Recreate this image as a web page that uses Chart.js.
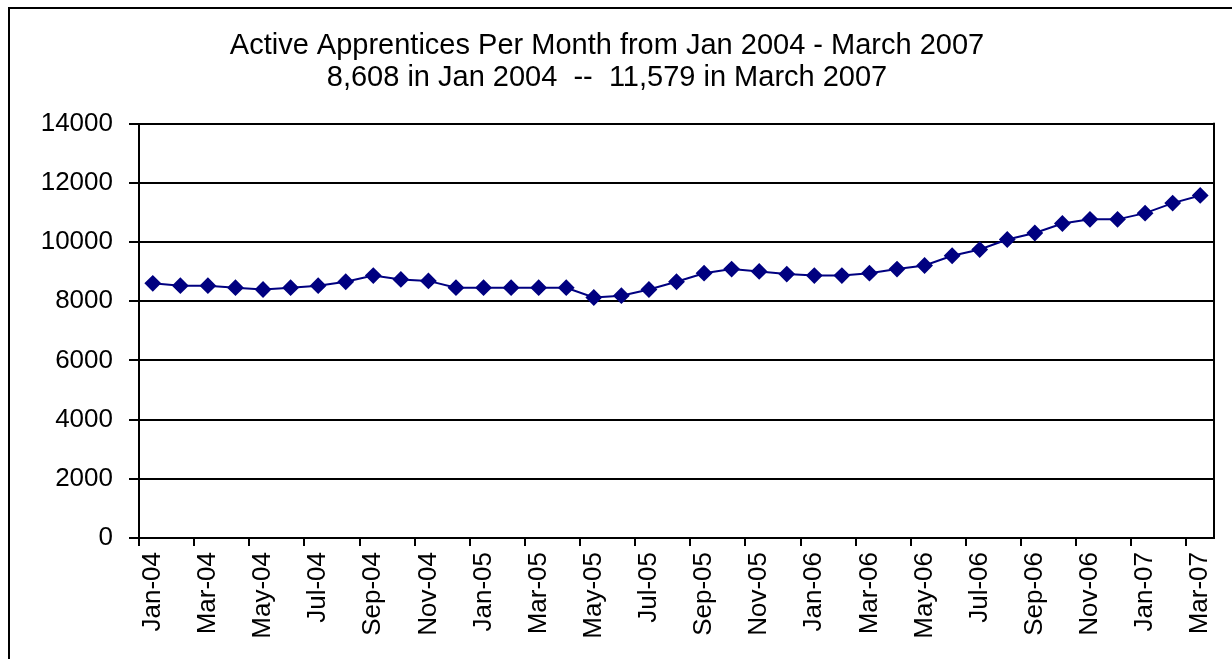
<!DOCTYPE html>
<html>
<head>
<meta charset="utf-8">
<script src="https://cdn.jsdelivr.net/npm/chart.js@4"></script>
<style>
  html, body { margin: 0; padding: 0; background: #fff; overflow: hidden; }
  #wrap { position: relative; width: 1232px; height: 659px; }
  #frame { position: absolute; left: 8px; top: 7px; width: 1400px; height: 800px; border: 2px solid #000; }
  #chart { position: absolute; left: 0; top: 0; }
</style>
</head>
<body>
<div id="wrap">
  <div id="frame"></div>
  <canvas id="chart" width="1232" height="659"></canvas>
</div>
<script>
const months = [
  "Jan-04", "Feb-04", "Mar-04", "Apr-04", "May-04", "Jun-04", "Jul-04", "Aug-04", "Sep-04", "Oct-04", "Nov-04", "Dec-04",
  "Jan-05", "Feb-05", "Mar-05", "Apr-05", "May-05", "Jun-05", "Jul-05", "Aug-05", "Sep-05", "Oct-05", "Nov-05", "Dec-05",
  "Jan-06", "Feb-06", "Mar-06", "Apr-06", "May-06", "Jun-06", "Jul-06", "Aug-06", "Sep-06", "Oct-06", "Nov-06", "Dec-06",
  "Jan-07", "Feb-07", "Mar-07"
];
const apprentices = [
  8608, 8530, 8530, 8460, 8400, 8460, 8530, 8660, 8870, 8740, 8690, 8460,
  8460, 8460, 8460, 8460, 8130, 8190, 8400, 8660, 8950, 9090, 9010, 8920,
  8870, 8870, 8950, 9090, 9210, 9540, 9750, 10090, 10310, 10630, 10770, 10770,
  10980, 11320, 11579
];
const yTicks = [0, 2000, 4000, 6000, 8000, 10000, 12000, 14000];
const titleLines = [
  "Active Apprentices Per Month from Jan 2004 - March 2007",
  "8,608 in Jan 2004  --  11,579 in March 2007"
];

const FONT = "'Liberation Sans', Arial, sans-serif";

// right edge of the plot area is framed in the original
const plotFrame = {
  id: 'plotFrame',
  afterDraw(chart) {
    const a = chart.chartArea;
    const c = chart.ctx;
    c.save();
    c.strokeStyle = '#000';
    c.lineWidth = 2;
    c.beginPath();
    c.moveTo(a.right, a.top - 1);
    c.lineTo(a.right, a.bottom + 1);
    c.stroke();
    c.restore();
  }
};

const ctx = document.getElementById('chart').getContext('2d');
const chart = new Chart(ctx, {
  type: 'line',
  data: {
    labels: months,
    datasets: [{
      label: 'Active Apprentices',
      data: apprentices,
      borderColor: '#000080',
      backgroundColor: '#000080',
      borderWidth: 2,
      pointStyle: 'rectRot',
      pointRadius: 7,
      pointHoverRadius: 7,
      tension: 0,
      fill: false
    }]
  },
  options: {
    responsive: false,
    animation: false,
    events: [],
    layout: { padding: { left: 0, right: 18, top: 0, bottom: 0 } },
    plugins: {
      legend: { display: false },
      tooltip: { enabled: false },
      title: {
        display: true,
        text: titleLines,
        color: '#000',
        font: { family: FONT, size: 29, weight: 'normal', lineHeight: 1.1 },
        padding: { top: 30, bottom: 30 }
      }
    },
    scales: {
      x: {
        type: 'category',
        offset: true,
        afterFit(scale) {
          scale.height = 121;
          scale.paddingLeft = 0;
          scale.paddingRight = 0;
        },
        grid: {
          offset: true,
          drawOnChartArea: false,
          drawTicks: true,
          tickLength: 8,
          lineWidth: 2,
          color: (c) => (c.index % 2 === 0 ? '#000' : 'rgba(0,0,0,0)')
        },
        border: { display: true, color: '#000', width: 2 },
        ticks: {
          autoSkip: false,
          maxRotation: 90,
          minRotation: 90,
          padding: 6,
          color: '#000',
          font: { family: FONT, size: 26 },
          callback: (v, i) => (i % 2 === 0 ? months[i] : '')
        }
      },
      y: {
        min: 0,
        max: 14000,
        afterFit(scale) { scale.width = 139; },
        afterBuildTicks(scale) { scale.ticks = yTicks.map(v => ({ value: v })); },
        grid: {
          color: '#000',
          lineWidth: 2,
          drawTicks: true,
          tickLength: 10
        },
        border: { display: true, color: '#000', width: 2 },
        ticks: {
          padding: 16,
          color: '#000',
          font: { family: FONT, size: 26 },
          callback: (v) => String(v)
        }
      }
    }
  },
  plugins: [plotFrame]
});
</script>
</body>
</html>
